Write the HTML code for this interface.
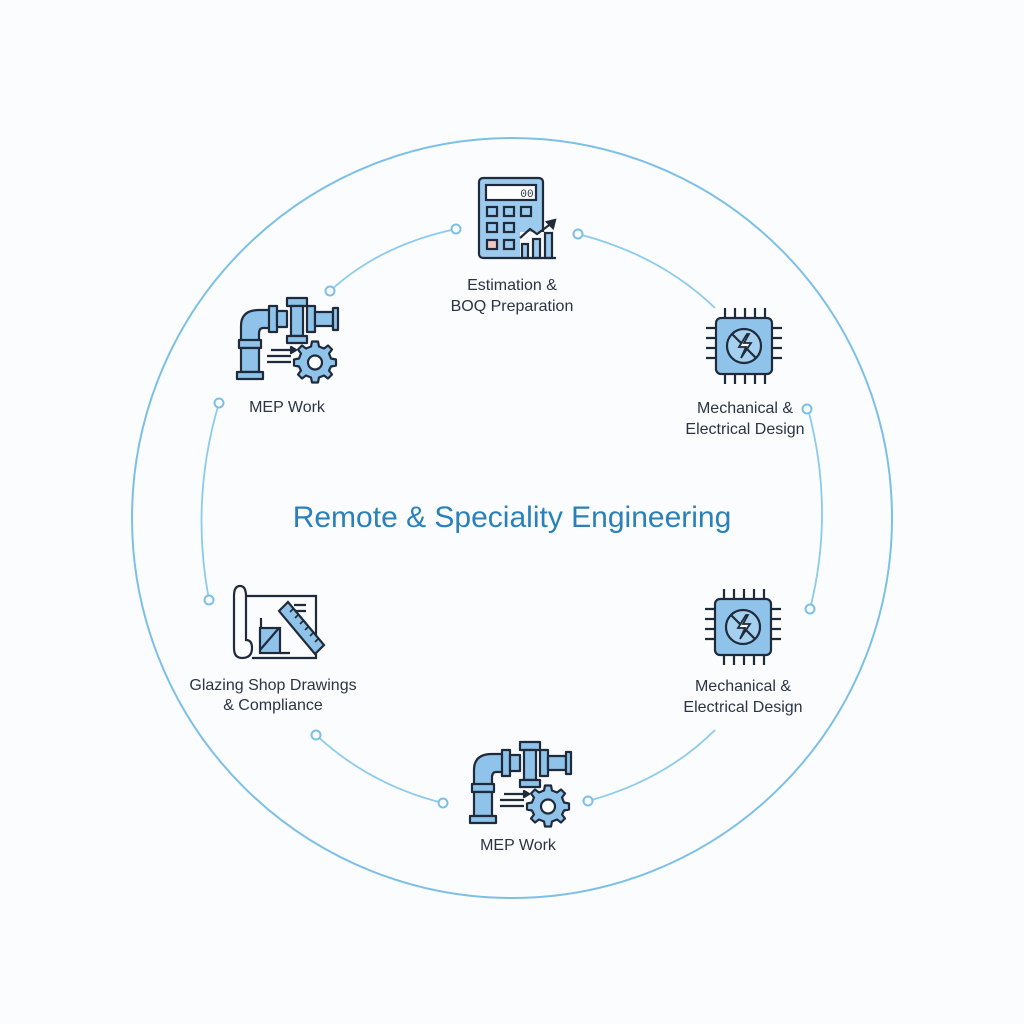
<!DOCTYPE html>
<html><head><meta charset="utf-8"><style>
html,body{margin:0;padding:0;background:#fbfcfd;}
svg{display:block}
text{font-family:"Liberation Sans",sans-serif;fill:#2b3442;font-size:16px;text-anchor:middle}
</style></head><body>
<svg width="1024" height="1024" viewBox="0 0 1024 1024">
<defs>
<g id="pipe" stroke="#1f2a3a" stroke-width="2.2" fill="#8fc3ea" stroke-linejoin="round">
  <path d="M4 48 L4 28 Q4 12 22 12 L36 12 L36 30 L26 30 Q22 30 22 36 L22 48 Z"/>
  <rect x="2" y="42" width="22" height="8"/>
  <rect x="4" y="50" width="18" height="24"/>
  <rect x="0" y="74" width="26" height="7"/>
  <rect x="32" y="8" width="8" height="26"/>
  <rect x="40" y="13" width="10" height="16"/>
  <rect x="50" y="0" width="20" height="8"/>
  <rect x="54" y="8" width="12" height="30"/>
  <rect x="50" y="38" width="20" height="7"/>
  <rect x="70" y="8" width="8" height="26"/>
  <rect x="78" y="14" width="18" height="14"/>
  <rect x="96" y="10" width="5" height="22"/>
  <path d="M34 52 H57 M30 58 H54 M30 64 H54" fill="none"/>
  <path d="M54 49 L59 52 L54 55Z" fill="#1f2a3a"/>
  <g transform="translate(78,64)">
    <path d="M-3 -18 H3 L4 -13 L9 -11 L13 -14 L17 -10 L14 -6 L16 -1 L21 0 V6 L16 7 L14 11 L17 15 L13 19 L9 16 L4 18 L3 23 H-3 L-4 18 L-9 16 L-13 19 L-17 15 L-14 11 L-16 7 L-21 6 V0 L-16 -1 L-14 -6 L-17 -10 L-13 -14 L-9 -11 L-4 -13Z" transform="translate(0,-2.5)"/>
    <circle cx="0" cy="0.5" r="7" fill="#fbfcfd"/>
  </g>
</g>
<g id="chip" stroke="#1f2a3a" stroke-width="2.2" fill="none">
  <path d="M19 0v12 M29 0v12 M39 0v12 M49 0v12 M59 0v12 M19 64v12 M29 64v12 M39 64v12 M49 64v12 M59 64v12 M0 20h12 M0 30h12 M0 40h12 M0 50h12 M64 20h12 M64 30h12 M64 40h12 M64 50h12"/>
  <rect x="10" y="10" width="56" height="56" rx="5" fill="#8fc3ea"/>
  <circle cx="38" cy="38" r="17" fill="#a6d0f0"/>
  <path d="M26 26 L50 50"/>
  <path d="M41 26 L33 39 H40 L35 50 L45 35 H38 L43 26Z" fill="#fff" stroke-width="1.8"/>
</g>
</defs>

<circle cx="512" cy="518" r="380" fill="none" stroke="#7dc0e6" stroke-width="2"/>

<g fill="none" stroke="#8ccbec" stroke-width="1.8">
  <path d="M456 229 Q380 245 330 291"/>
  <path d="M578 234 Q660 255 715 308"/>
  <path d="M219 403 Q190 500 209 600"/>
  <path d="M808 409 Q835 510 810 609"/>
  <path d="M316 735 Q370 785 443 803"/>
  <path d="M588 801 Q665 780 715 730"/>
</g>
<g fill="#fbfcfd" stroke="#7dc0e6" stroke-width="2">
  <circle cx="456" cy="229" r="4.5"/><circle cx="330" cy="291" r="4.5"/>
  <circle cx="578" cy="234" r="4.5"/><circle cx="219" cy="403" r="4.5"/>
  <circle cx="209" cy="600" r="4.5"/><circle cx="807" cy="409" r="4.5"/>
  <circle cx="810" cy="609" r="4.5"/><circle cx="316" cy="735" r="4.5"/>
  <circle cx="443" cy="803" r="4.5"/><circle cx="588" cy="801" r="4.5"/>
</g>

<g stroke="#1f2a3a" stroke-width="2.2" fill="#9ccbee">
  <rect x="479" y="178" width="64" height="80" rx="4"/>
  <rect x="486" y="185" width="50" height="15" fill="#fff"/>
  <rect x="487" y="207" width="10" height="9"/><rect x="504" y="207" width="10" height="9"/><rect x="521" y="207" width="10" height="9"/>
  <rect x="487" y="223" width="10" height="9"/><rect x="504" y="223" width="10" height="9"/>
  <rect x="487" y="240" width="10" height="9" fill="#f2c7c4"/><rect x="504" y="240" width="10" height="9"/>
  <rect x="520" y="232" width="36" height="28" fill="#fbfcfd" stroke="none"/>
  <rect x="522" y="244" width="6" height="14"/><rect x="533" y="239" width="7" height="19"/><rect x="545" y="233" width="7" height="25"/>
  <path d="M520 258 H556 M520 238 L530 229 L537 234 L552 223" fill="none"/>
  <path d="M547 222 L555 220 L553 228Z" fill="#1f2a3a"/>
</g>
<text x="527" y="197" style="font-size:11px;font-family:'Liberation Mono',monospace">00</text>

<use href="#pipe" x="237" y="298"/>
<use href="#pipe" x="470" y="742"/>
<use href="#chip" x="706" y="308"/>
<use href="#chip" x="705" y="589"/>

<g stroke="#1f2a3a" stroke-width="2.2" fill="none">
  <path d="M245 596 H316 V658 H252"/>
  <path d="M234 596 Q234 586 240 586 Q246 586 246 596 V640 Q252 640 252 648 Q252 658 242 658 Q234 658 234 648Z" fill="#fbfcfd"/>
  <path d="M261 618 V628 M294 605 H306 M294 611 H306"/>
  <rect x="260" y="628" width="20" height="25" fill="#8fc3ea"/>
  <path d="M260 650 L279 628 M280 653 H290"/>
  <path d="M279 611 L288 602 L324 645 L315 654Z" fill="#8fc3ea"/>
  <path d="M290 612 l3-3 M295 618 l3-3 M300 624 l3-3 M305 630 l3-3 M310 636 l3-3 M315 642 l3-3" stroke-width="1.6"/>
</g>

<text x="512" y="290">Estimation &amp;</text>
<text x="512" y="311">BOQ Preparation</text>
<text x="287" y="412">MEP Work</text>
<text x="745" y="413">Mechanical &amp;</text>
<text x="745" y="434">Electrical Design</text>
<text x="743" y="691">Mechanical &amp;</text>
<text x="743" y="712">Electrical Design</text>
<text x="273" y="690">Glazing Shop Drawings</text>
<text x="273" y="710">&amp; Compliance</text>
<text x="518" y="850">MEP Work</text>
<text x="512" y="527" style="font-size:30px;fill:#2a80bb">Remote &amp; Speciality Engineering</text>
</svg>
</body></html>
